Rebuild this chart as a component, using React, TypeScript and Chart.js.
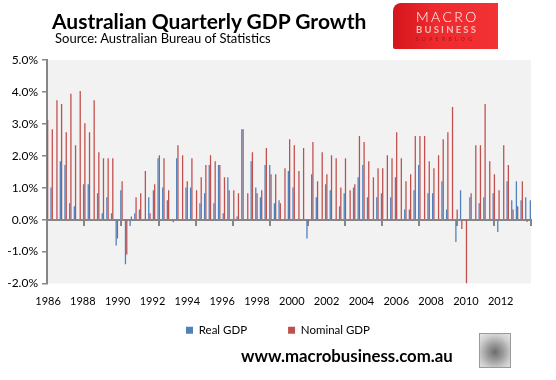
import React, { useEffect, useRef } from 'react';
import { Chart, registerables } from 'chart.js';

Chart.register(...registerables);

// Quarter categories: Dec-1986 ... Dec-2012 (105 quarters)
const quarterNames = ['Mar', 'Jun', 'Sep', 'Dec'];
const quarters: string[] = [];
for (let i = 0; i < 105; i++) {
  const n = 3 + i;
  quarters.push(`${quarterNames[n % 4]}-${1986 + Math.floor(n / 4)}`);
}

const realGDP: (number | null)[] = [
  null, 1.01, null, 1.83, 1.71, 0.51, 0.42, null, 1.11, 1.11,
  null, 0.83, 0.20, 0.70, 0.20, -0.81, 0.92, -1.40, -0.20, 0.20,
  0.32, null, 0.70, 0.92, 1.92, 1.01, 0.61, null, 1.92, null,
  1.01, 1.01, null, 0.51, 0.83, 1.71, 0.51, 1.71, 0.20, 1.33,
  null, 0.10, 2.83, null, 1.83, 1.01, 0.70, 1.71, 1.71, 0.51,
  0.61, null, 1.52, 1.01, null, null, -0.59, 1.42, 0.70, null,
  1.11, 0.92, null, 0.42, 0.83, null, 1.01, 1.33, 1.71, 0.70,
  null, 0.70, 0.83, null, 0.70, 1.33, null, 0.32, 0.32, 0.92,
  1.71, null, 0.83, 0.83, null, 1.20, 0.32, null, -0.70, 0.92,
  null, 0.70, null, 0.51, 0.70, null, 0.83, -0.39, null, 1.20,
  0.61, 1.20, 0.61, 0.70, 0.61,
];

const nominalGDP: number[] = [
  3.12, 2.83, 3.74, 3.62, 2.74, 3.94, 2.33, 4.03, 3.02, 2.74,
  3.74, 2.11, 1.92, 1.92, 1.92, -0.59, 1.20, -1.09, 0.10, 0.70,
  0.83, 1.52, 0.20, 1.11, 2.02, 1.92, 0.92, -0.08, 2.33, 2.02,
  1.20, 1.92, 0.92, 1.33, 1.71, 2.02, 1.83, 1.71, 1.33, 0.92,
  0.92, 0.83, 2.83, 0.83, 2.11, 0.83, 0.92, 2.24, 1.42, 1.42,
  0.51, 1.61, 2.52, 2.33, 1.52, 2.24, -0.07, 2.43, 1.20, 2.11,
  1.42, 2.02, 1.92, 1.01, 1.92, 0.92, 1.11, 2.62, 2.43, 1.83,
  1.33, 1.61, 1.61, 2.02, 1.92, 2.74, 1.92, 1.20, 1.42, 2.62,
  2.62, 2.62, 1.83, 1.61, 2.02, 2.52, 2.74, 3.53, 0.32, -0.29,
  -2.0, 0.83, 2.33, 2.33, 3.62, 1.83, 1.42, 0.92, 2.33, 1.71,
  0.32, 0.42, 1.20, -0.07, 0.51,
];

const yearLabels: number[] = [1986, 1988, 1990, 1992, 1994, 1996, 1998, 2000, 2002, 2004, 2006, 2008, 2010, 2012];

const BLUE = '#4F81BD';
const RED = '#C0504D';
const AXIS = '#868686';
const FONT = "Lato, 'Open Sans', sans-serif";

const plotBg = {
  id: 'plotBg',
  beforeDraw(chart: any) {
    const { ctx, chartArea: a } = chart;
    ctx.save();
    ctx.fillStyle = '#F2F2F2';
    ctx.fillRect(a.left, a.top, a.right - a.left, a.bottom - a.top);
    ctx.restore();
  },
};

export default function App() {
  const canvasRef = useRef<HTMLCanvasElement | null>(null);

  useEffect(() => {
    if (!canvasRef.current) return;
    const chart = new Chart(canvasRef.current, {
      type: 'bar',
      data: {
        labels: quarters,
        datasets: [
          { label: 'Real GDP', data: realGDP, backgroundColor: BLUE, borderWidth: 0, xAxisID: 'x', yAxisID: 'y' },
          { label: 'Nominal GDP', data: nominalGDP, backgroundColor: RED, borderWidth: 0, xAxisID: 'x', yAxisID: 'y' },
        ],
      },
      options: {
        animation: false,
        responsive: false,
        maintainAspectRatio: false,
        categoryPercentage: 0.55,
        barPercentage: 1.0,
        layout: { padding: { top: 60, right: 0, left: 0, bottom: 0 } },
        plugins: {
          tooltip: { enabled: false },
          title: { display: false },
          legend: {
            position: 'bottom',
            labels: {
              boxWidth: 7,
              boxHeight: 7,
              padding: 41,
              color: '#000',
              font: { family: FONT, size: 11.5 },
            },
          },
        },
        scales: {
          y: {
            min: -2,
            max: 5,
            afterFit: (s: any) => { s.width = 47; },
            ticks: {
              stepSize: 1,
              callback: (v: any) => Number(v).toFixed(1) + '%',
              color: '#000',
              font: { family: FONT, size: 12 },
              padding: 4,
            },
            grid: { drawOnChartArea: false, drawTicks: true, tickLength: 5, color: AXIS, lineWidth: 1.5 },
            border: { color: AXIS, width: 2 },
          },
          yRight: {
            type: 'linear',
            position: 'right',
            min: -2,
            max: 5,
            afterFit: (s: any) => { s.width = 25; },
            ticks: { display: false },
            grid: { display: false, drawTicks: false },
            border: { display: false },
          },
          x: {
            type: 'category',
            position: { y: 0 } as any,
            offset: false,
            ticks: { display: false, autoSkip: false },
            grid: {
              drawOnChartArea: false,
              drawTicks: true,
              tickLength: 5,
              offset: false,
              lineWidth: 2,
              color: (c: any) => (c.index > 0 && c.index % 8 === 0 ? AXIS : 'rgba(0,0,0,0)'),
            },
            border: { color: AXIS, width: 2 },
          },
          x2: {
            type: 'linear',
            position: { y: -2 } as any,
            offset: false,
            min: 1985.94,
            max: 2013.74,
            afterBuildTicks: (s: any) => { s.ticks = yearLabels.map((v) => ({ value: v })); },
            ticks: {
              autoSkip: false,
              maxRotation: 0,
              callback: (v: any) => String(v),
              padding: 11.4,
              color: '#000',
              font: { family: FONT, size: 11 },
            },
            grid: { display: false, drawTicks: false, offset: false },
            border: { display: false },
          },
        },
      },
      plugins: [plotBg],
    } as any);
    return () => chart.destroy();
  }, []);

  return (
    <div style={{ position: 'fixed', left: 0, top: 0, width: 556, height: 380, background: '#fff', overflow: 'hidden' }}>
      <canvas ref={canvasRef} width={556} height={346} style={{ position: 'absolute', left: 0, top: 0, width: 556, height: 346 }} />
      <div style={{ position: 'absolute', left: 52, top: 10, fontFamily: FONT, fontWeight: 700, fontSize: 21, lineHeight: 1, color: '#000', whiteSpace: 'nowrap' }}>
        Australian Quarterly GDP Growth
      </div>
      <div style={{ position: 'absolute', left: 55, top: 32, fontFamily: FONT, fontSize: 13, lineHeight: 1, color: '#000', whiteSpace: 'nowrap' }}>
        Source: Australian Bureau of Statistics
      </div>
      <div style={{ position: 'absolute', left: 393, top: 3, width: 105, height: 46, background: 'linear-gradient(90deg, #d3161c 0%, #ee2a2e 40%, #f23234 100%)', borderTopLeftRadius: 8, borderBottomLeftRadius: 2 }}>
        <div style={{ position: 'absolute', left: 23, top: 7, fontFamily: FONT, fontWeight: 300, fontSize: 14, lineHeight: 1, letterSpacing: 2.4, color: '#fff', whiteSpace: 'nowrap' }}>MACRO</div>
        <div style={{ position: 'absolute', left: 23, top: 22, fontFamily: FONT, fontWeight: 700, fontSize: 9.5, lineHeight: 1, letterSpacing: 2.2, color: '#f7b9b5', whiteSpace: 'nowrap' }}>BUSINESS</div>
        <div style={{ position: 'absolute', left: 23, top: 34, fontFamily: FONT, fontSize: 5, lineHeight: 1, letterSpacing: 3.4, color: '#a8161a', whiteSpace: 'nowrap' }}>SUPERBLOG</div>
      </div>
      <div style={{ position: 'absolute', left: 241, top: 348, fontFamily: FONT, fontWeight: 700, fontSize: 16.8, lineHeight: 1, color: '#000', whiteSpace: 'nowrap' }}>
        www.macrobusiness.com.au
      </div>
      <div style={{ position: 'absolute', left: 479, top: 333, width: 30, height: 33, border: '1px solid #9a9a9a', background: 'radial-gradient(circle at 50% 55%, #6d6d6d 0%, #9b9b9b 35%, #cfcfcf 70%, #e6e6e6 100%)' }} />
    </div>
  );
}
